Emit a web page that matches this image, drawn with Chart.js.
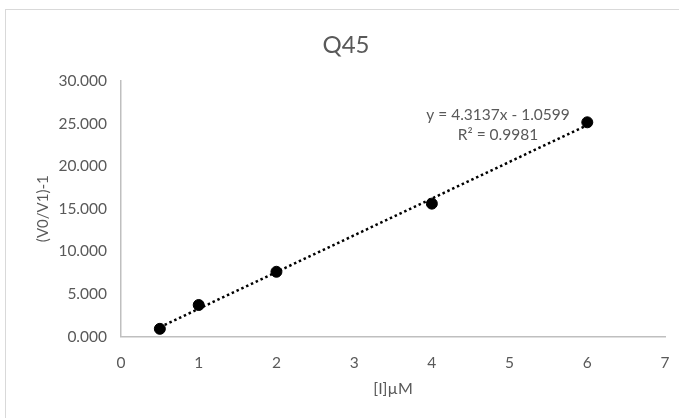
<!DOCTYPE html>
<html>
<head>
<meta charset="utf-8">
<script src="https://cdn.jsdelivr.net/npm/chart.js@4"></script>
<style>
  html, body { margin: 0; padding: 0; background: #fff; }
  #wrap { position: absolute; left: 0; top: 0; width: 679px; height: 418px; }
  #frame { position: absolute; left: 5px; top: 9px; width: 680px; height: 420px;
           border-left: 1.5px solid #d9d9d9; border-top: 1.5px solid #d9d9d9; pointer-events: none; }
</style>
</head>
<body>
<div id="wrap"><canvas id="c" width="679" height="418"></canvas><div id="frame"></div></div>
<script>
const chartTitle = "Q45";
const xAxisTitle = "[I]\u00b5M";
const yAxisTitle = "(V0/V1)-1";
const concentrations = [0.5, 1, 2, 4, 6];
const ratioValues = [0.9, 3.7, 7.6, 15.6, 25.15];
const trendSlope = 4.3137;
const trendIntercept = -1.0599;
const trendR2 = "0.9981";
const xTicks = [0, 1, 2, 3, 4, 5, 6, 7];
const yTicks = [0, 5, 10, 15, 20, 25, 30];

const FONT = "Lato, 'Open Sans', sans-serif";
const GREY = "#595959";

const points = concentrations.map((x, i) => ({ x: x, y: ratioValues[i] }));
const xMinData = concentrations[0];
const xMaxData = concentrations[concentrations.length - 1];
const trend = [xMinData, xMaxData].map(x => ({ x: x, y: trendSlope * x + trendIntercept }));

const textPlugin = {
  id: 'texts',
  afterDatasetsDraw(chart) {
    const ctx = chart.ctx;
    ctx.save();
    ctx.fillStyle = GREY;
    ctx.textAlign = "center";
    ctx.textBaseline = "middle";
    ctx.font = "24px " + FONT;
    ctx.fillText(chartTitle, 346, 45);
    ctx.font = "15.5px " + FONT;
    ctx.fillText("y = " + trendSlope + "x - " + Math.abs(trendIntercept), 498, 115);
    ctx.fillText("R\u00b2 = " + trendR2, 498, 135);
    ctx.restore();
  }
};

new Chart(document.getElementById('c'), {
  type: 'scatter',
  data: {
    datasets: [
      {
        label: 'trend',
        data: trend,
        showLine: true,
        borderColor: '#000',
        borderWidth: 2.5,
        borderDash: [2.5, 2.8],
        pointRadius: 0,
        order: 2
      },
      {
        label: 'data',
        data: points,
        backgroundColor: '#000',
        borderColor: '#000',
        pointRadius: 5.5,
        pointHoverRadius: 5.5,
        order: 1
      }
    ]
  },
  plugins: [textPlugin],
  options: {
    responsive: false,
    animation: false,
    events: [],
    layout: { padding: { left: 0, right: 14, top: 81, bottom: 0 } },
    plugins: {
      legend: { display: false },
      tooltip: { enabled: false },
      title: { display: false }
    },
    scales: {
      x: {
        type: 'linear',
        min: 0, max: 7,
        afterBuildTicks: s => { s.ticks = xTicks.map(v => ({ value: v })); },
        afterFit: s => { s.height = 81.5; s.paddingRight = 0; },
        grid: { display: false, drawTicks: false },
        border: { display: true, color: '#bfbfbf', width: 1.5 },
        ticks: { color: GREY, font: { family: FONT, size: 15.5 }, padding: 17 },
        title: { display: true, text: xAxisTitle, color: GREY,
                 font: { family: FONT, size: 16 }, padding: { top: 0, bottom: 20 } }
      },
      y: {
        type: 'linear',
        min: 0, max: 30,
        afterBuildTicks: s => { s.ticks = yTicks.map(v => ({ value: v })); },
        afterFit: s => { s.width = 121; },
        grid: { display: false, drawTicks: false },
        border: { display: true, color: '#bfbfbf', width: 1.5 },
        ticks: { color: GREY, font: { family: FONT, size: 15.5 }, padding: 14,
                 callback: v => Number(v).toFixed(3) },
        title: { display: true, text: yAxisTitle, color: GREY,
                 font: { family: FONT, size: 15 }, padding: { top: 34, bottom: 0 } }
      }
    }
  }
});
</script>
</body>
</html>
